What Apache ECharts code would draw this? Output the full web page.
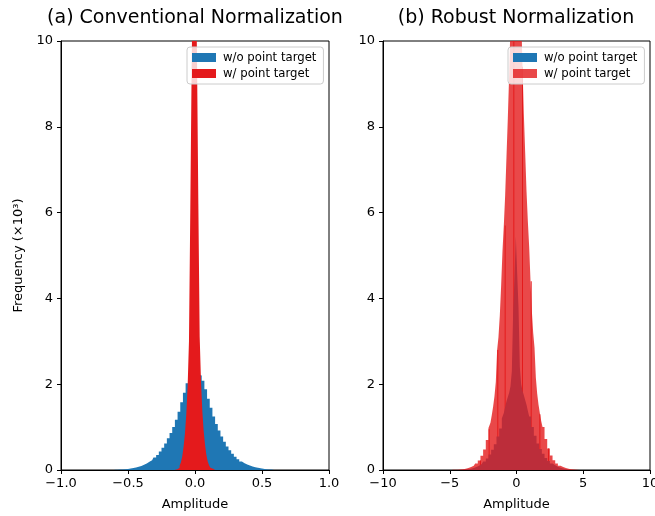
<!DOCTYPE html>
<html>
<head>
<meta charset="utf-8">
<script src="https://cdn.jsdelivr.net/npm/echarts@6/dist/echarts.min.js"></script>
<style>
  html, body { margin: 0; padding: 0; background: #fff; }
  #main { width: 655px; height: 516px; }
</style>
</head>
<body>
<div id="main"></div>
<script>
// (a) conventional normalization, bin centres and heights (x10^3)
const convBlueX = [-0.60, -0.58, -0.56, -0.54, -0.52, -0.50, -0.48, -0.46, -0.44, -0.42, -0.40, -0.38, -0.36, -0.34, -0.32, -0.30,
  -0.28, -0.26, -0.24, -0.22, -0.20, -0.18, -0.16, -0.14, -0.12, -0.10, -0.08, -0.06, -0.04, -0.02, 0.00,
  0.02, 0.04, 0.06, 0.08, 0.10, 0.12, 0.14, 0.16, 0.18, 0.20, 0.22, 0.24, 0.26, 0.28, 0.30,
  0.32, 0.34, 0.36, 0.38, 0.40, 0.42, 0.44, 0.46, 0.48, 0.50, 0.52, 0.54, 0.56, 0.58, 0.60]
const convBlueY = [0.004, 0.006, 0.009, 0.013, 0.018, 0.025, 0.034, 0.045, 0.058, 0.075, 0.095, 0.12, 0.15, 0.19, 0.23, 0.29,
  0.35, 0.43, 0.52, 0.62, 0.74, 0.86, 1.0, 1.17, 1.36, 1.58, 1.8, 2.02, 2.16, 2.2, 2.22,
  2.22, 2.2, 2.08, 1.88, 1.66, 1.45, 1.25, 1.07, 0.92, 0.78, 0.66, 0.55, 0.46, 0.38, 0.31,
  0.25, 0.2, 0.16, 0.13, 0.105, 0.083, 0.065, 0.05, 0.038, 0.028, 0.02, 0.014, 0.01, 0.007, 0.004]
const convRedX = [-0.15, -0.14, -0.13, -0.12, -0.11, -0.10, -0.09, -0.08, -0.07, -0.06, -0.05, -0.04, -0.03, -0.02, -0.01, 0.00,
  0.01, 0.02, 0.03, 0.04, 0.05, 0.06, 0.07, 0.08, 0.09, 0.10, 0.11, 0.12, 0.13, 0.14, 0.15]
const convRedY = [0.005, 0.012, 0.025, 0.05, 0.1, 0.18, 0.32, 0.55, 0.85, 1.3, 1.95, 3.0, 6.1, 9.4, 12, 14,
  12, 9.6, 6.2, 3.1, 2.05, 1.35, 0.9, 0.58, 0.35, 0.2, 0.11, 0.055, 0.028, 0.013, 0.006]

// (b) robust normalization
const robBlueX = [-4.0, -3.8, -3.6, -3.4, -3.2, -3.0, -2.8, -2.6, -2.4, -2.2, -2.0, -1.8, -1.6, -1.4, -1.2, -1.0,
  -0.9, -0.8, -0.7, -0.6, -0.5, -0.4, -0.3, -0.2, -0.1, 0.0, 0.1, 0.2, 0.3, 0.4, 0.5, 0.6, 0.7, 0.8, 0.9,
  1.0, 1.2, 1.4, 1.6, 1.8, 2.0, 2.2, 2.4, 2.6, 2.8, 3.0, 3.2, 3.4, 3.6, 3.8, 4.0]
const robBlueY = [0.005, 0.01, 0.018, 0.03, 0.045, 0.07, 0.1, 0.14, 0.2, 0.27, 0.36, 0.47, 0.6, 0.78, 0.97, 1.2,
  1.33, 1.47, 1.6, 1.7, 1.8, 1.95, 2.3, 3.7, 4.5, 5.45, 4.6, 3.8, 2.4, 2.0, 1.85, 1.74, 1.63, 1.52, 1.38,
  1.25, 1.0, 0.8, 0.62, 0.49, 0.38, 0.28, 0.21, 0.15, 0.11, 0.075, 0.05, 0.033, 0.02, 0.012, 0.006]
const robRedX = [-4.8, -4.6, -4.4, -4.2, -4.0, -3.8, -3.6, -3.4, -3.2, -3.0, -2.8, -2.6, -2.4, -2.2,
  -2.0, -1.9, -1.8, -1.7, -1.6, -1.5, -1.4, -1.3, -1.2, -1.1, -1.0, -0.9, -0.8, -0.7, -0.6, -0.5, -0.4, -0.3, -0.2, -0.1,
  0.0, 0.1, 0.2, 0.3, 0.4, 0.5, 0.6, 0.7, 0.8, 0.9, 1.0, 1.1, 1.2, 1.3, 1.4, 1.5, 1.6, 1.7, 1.8, 1.9, 2.0,
  2.2, 2.4, 2.6, 2.8, 3.0, 3.2, 3.4, 3.6, 3.8, 4.0, 4.2, 4.4, 4.6, 4.8]
const robRedY = [0.003, 0.005, 0.008, 0.013, 0.02, 0.03, 0.046, 0.068, 0.1, 0.15, 0.22, 0.33, 0.48, 0.7,
  0.98, 1.1, 1.28, 1.48, 1.72, 2.05, 2.8, 3.1, 3.6, 4.3, 5.1, 5.7, 6.4, 7.3, 8.2, 9.2, 10.4, 11.5, 12.8, 14,
  15, 14, 12.8, 11.6, 10.6, 9.4, 8.3, 7.4, 6.5, 5.8, 5.2, 4.4, 3.7, 3.2, 2.85, 2.15, 1.78, 1.52, 1.32, 1.14, 1.0,
  0.72, 0.5, 0.34, 0.23, 0.15, 0.1, 0.068, 0.046, 0.03, 0.02, 0.013, 0.008, 0.005, 0.003]
// darker seams visible inside the robust red histogram
const seamX = [-2.7, -2.05, -1.4, -0.85, -0.2, 0.45, 1.1, 1.75, 2.4]
const seamY = [0.22, 0.95, 2.8, 5.7, 12.8, 9.4, 4.4, 1.3, 0.5]

const convTicks = [-1.0, -0.5, 0.0, 0.5, 1.0]
const robTicks = [-10, -5, 0, 5, 10]

const BLUE = '#1f77b4'
const RED = '#e41a1c'
const RED_A = 'rgba(228,26,28,0.8)'
const FONT = 'DejaVu Sans'

const zip = (xs, ys) => xs.map((x, i) => [x, ys[i]])
const minus = s => String(s).replace('-', '\u2212')

const hist = (name, xs, ys, color, idx) => ({
  name: name,
  type: 'line',
  step: 'middle',
  xAxisIndex: idx,
  yAxisIndex: idx,
  symbol: 'none',
  silent: true,
  lineStyle: { width: 0 },
  areaStyle: { color: color, opacity: 1 },
  data: zip(xs, ys)
})

const xAxisBase = (idx, ticks, fmt) => ({
  gridIndex: idx,
  type: 'value',
  min: ticks[0],
  max: ticks[ticks.length - 1],
  interval: ticks[1] - ticks[0],
  name: 'Amplitude',
  nameLocation: 'middle',
  nameGap: 28,
  nameTextStyle: { color: '#000', fontSize: 13, fontFamily: FONT },
  axisLine: { show: true, onZero: false, lineStyle: { color: '#000', width: 1 } },
  axisTick: { show: true, length: 4, lineStyle: { color: '#000', width: 1 } },
  axisLabel: { color: '#000', fontSize: 13, fontFamily: FONT, margin: 7, formatter: fmt },
  splitLine: { show: false }
})

const yAxisBase = (idx) => ({
  gridIndex: idx,
  type: 'value',
  min: 0,
  max: 10,
  interval: 2,
  axisLine: { show: true, onZero: false, lineStyle: { color: '#000', width: 1 } },
  axisTick: { show: true, length: 4, lineStyle: { color: '#000', width: 1 } },
  axisLabel: { color: '#000', fontSize: 13, fontFamily: FONT, margin: 8 },
  splitLine: { show: false }
})

const legendBase = (left, redColor) => ({
  left: left,
  top: 47,
  orient: 'vertical',
  itemWidth: 24,
  itemHeight: 9,
  itemGap: 3,
  padding: [4, 7, 4, 5],
  backgroundColor: 'rgba(255,255,255,0.8)',
  borderColor: '#cccccc',
  borderWidth: 1,
  borderRadius: 3,
  selectedMode: false,
  icon: 'rect',
  textStyle: { color: '#000', fontSize: 11.7, fontFamily: FONT, lineHeight: 13, padding: [0, 0, 0, 2] },
  data: [
    { name: 'w/o point target', itemStyle: { color: BLUE } },
    { name: 'w/ point target', itemStyle: { color: redColor } }
  ]
})

const gridBase = (left, width) => ({
  left: left,
  top: 41,
  width: width,
  height: 429,
  containLabel: false,
  outerBoundsMode: 'none',
  show: true,
  borderColor: '#000',
  borderWidth: 1,
  backgroundColor: 'transparent'
})

const chart = echarts.init(document.getElementById('main'), null, { renderer: 'canvas' })
chart.setOption({
  animation: false,
  backgroundColor: '#fff',
  title: [
    { text: '(a) Conventional Normalization', left: 195, top: 9, textAlign: 'center', padding: 0,
      textStyle: { color: '#000', fontSize: 19, fontWeight: 'normal', fontFamily: FONT } },
    { text: '(b) Robust Normalization', left: 516, top: 9, textAlign: 'center', padding: 0,
      textStyle: { color: '#000', fontSize: 19, fontWeight: 'normal', fontFamily: FONT } }
  ],
  legend: [legendBase(187, RED), legendBase(508, RED_A)],
  grid: [gridBase(61, 268), gridBase(383, 267)],
  xAxis: [
    xAxisBase(0, convTicks, v => minus(v.toFixed(1))),
    xAxisBase(1, robTicks, v => minus(v))
  ],
  yAxis: [
    Object.assign(yAxisBase(0), {
      name: 'Frequency (\u00d710\u00b3)',
      nameLocation: 'middle',
      nameGap: 36,
      nameRotate: 90,
      nameTextStyle: { color: '#000', fontSize: 13, fontFamily: FONT }
    }),
    yAxisBase(1)
  ],
  series: [
    hist('w/o point target', convBlueX, convBlueY, BLUE, 0),
    hist('w/ point target', convRedX, convRedY, RED, 0),
    hist('w/o point target', robBlueX, robBlueY, BLUE, 1),
    hist('w/ point target', robRedX, robRedY, RED_A, 1),
    {
      type: 'bar',
      xAxisIndex: 1,
      yAxisIndex: 1,
      barWidth: 1,
      silent: true,
      itemStyle: { color: RED },
      data: zip(seamX, seamY)
    }
  ]
})
</script>
</body>
</html>
